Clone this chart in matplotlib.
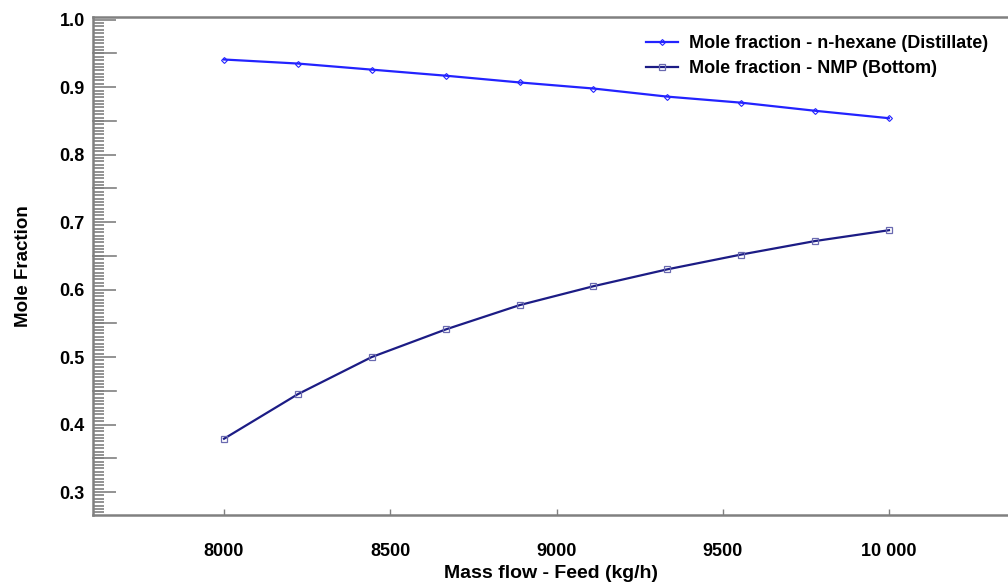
import matplotlib
matplotlib.use("Agg")
from matplotlib import pyplot as plt
from matplotlib.ticker import MultipleLocator, FuncFormatter

plt.rcParams['font.family'] = ['Liberation Sans', 'DejaVu Sans']

# Feed mass flow (kg/h)
feed_flow = [8000, 8222, 8444, 8667, 8889, 9111, 9333, 9556, 9778, 10000]
# mole fractions
x_hexane_dist = [0.941, 0.935, 0.926, 0.917, 0.907, 0.898, 0.886, 0.877, 0.865, 0.854]
x_nmp_bottom = [0.379, 0.445, 0.500, 0.541, 0.577, 0.605, 0.630, 0.652, 0.672, 0.688]


def flow_fmt(v, p):
    v = int(round(v))
    return f"{v:,}".replace(",", " ") if v >= 10000 else str(v)


fig = plt.figure(figsize=(10.08, 5.86), dpi=100)
ax = fig.add_axes([0.0923, 0.1212, 0.9077, 0.8498])

ax.plot(feed_flow, x_hexane_dist, color='#2323ff', linewidth=1.6, marker='D',
        markersize=3, markerfacecolor='none', markeredgewidth=0.8,
        label='Mole fraction - n-hexane (Distillate)')
ax.plot(feed_flow, x_nmp_bottom, color='#1c1c85', linewidth=1.6, marker='s',
        markersize=5, markerfacecolor='none', markeredgecolor='#6a6ab0',
        markeredgewidth=0.9, label='Mole fraction - NMP (Bottom)')

ax.set_xlim(7606, 10358)
ax.set_ylim(0.266, 1.004)

ax.xaxis.set_major_locator(MultipleLocator(500))
ax.xaxis.set_major_formatter(FuncFormatter(flow_fmt))
ax.yaxis.set_major_locator(MultipleLocator(0.1))
ax.yaxis.set_minor_locator(MultipleLocator(0.005))
ax.yaxis.set_major_formatter(FuncFormatter(lambda v, p: f"{v:.1f}"))

ax.tick_params(axis='y', which='major', direction='in', length=16.5, width=1.2,
               color='#808080', labelsize=13, pad=6)
ax.tick_params(axis='y', which='minor', direction='in', length=8, width=1.2,
               color='#808080')
ax.tick_params(axis='x', which='major', direction='in', length=4, width=1,
               color='#808080', labelsize=13, pad=20)
# medium ticks at the half-steps
for yv in [0.35, 0.45, 0.55, 0.65, 0.75, 0.85, 0.95]:
    ax.plot([7606, 7606 + 23 / 0.3325], [yv, yv], color='#808080', linewidth=1.2,
            clip_on=False, zorder=1)

for lbl in ax.get_xticklabels() + ax.get_yticklabels():
    lbl.set_fontweight('bold')

ax.spines['right'].set_visible(False)
for s in ['left', 'top', 'bottom']:
    ax.spines[s].set_color('#808080')
    ax.spines[s].set_linewidth(1.8)

ax.set_xlabel('Mass flow - Feed (kg/h)', fontsize=14, fontweight='bold')
ax.xaxis.set_label_coords(0.5, -0.101)
ax.set_ylabel('Mole Fraction', fontsize=13.5, fontweight='bold', labelpad=20)

ax.legend(loc='upper right', bbox_to_anchor=(0.99, 0.985), frameon=False,
          prop={'weight': 'bold', 'size': 13}, handlelength=1.8,
          handletextpad=0.6, labelspacing=0.45, borderaxespad=0.2)

fig.savefig('out.png', dpi=100)
